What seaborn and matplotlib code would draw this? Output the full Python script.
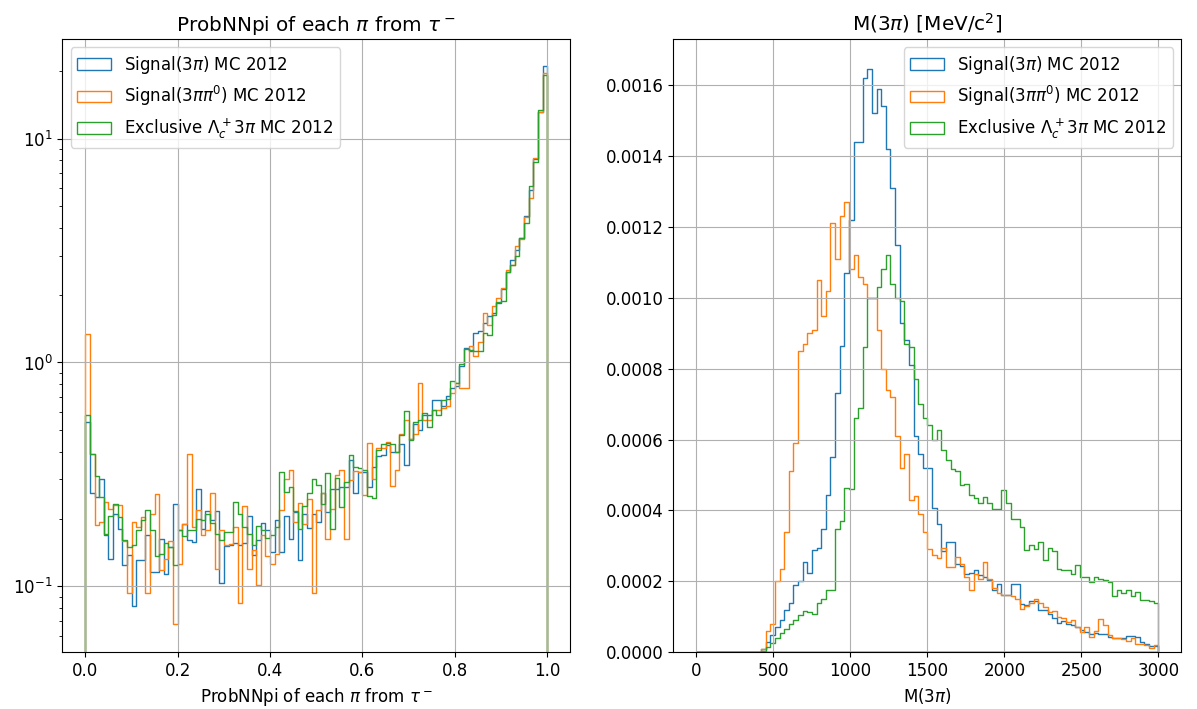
import numpy as np
import matplotlib
matplotlib.use("Agg")
import matplotlib.pyplot as plt
import seaborn as sns

plt.rcParams["font.size"] = 12

labels = [r"Signal(3$\pi$) MC 2012",
          r"Signal(3$\pi\pi^0$) MC 2012",
          r"Exclusive $\Lambda_c^+ 3\pi$ MC 2012"]
colors = ["tab:blue", "tab:orange", "tab:green"]

# ProbNNpi, density per 0.01 bin (0 -> 1)
pnn_3pi = [0.54, 0.26, 0.25, 0.30, 0.17, 0.133, 0.21, 0.18, 0.124, 0.138,
           0.082, 0.131, 0.131, 0.169, 0.116, 0.116, 0.163, 0.114, 0.15, 0.234,
           0.178, 0.19, 0.161, 0.158, 0.273, 0.18,
           0.218, 0.197, 0.218, 0.103, 0.151, 0.153, 0.156, 0.153, 0.156, 0.206,
           0.138, 0.161, 0.192, 0.178, 0.142, 0.197, 0.142, 0.206, 0.163, 0.215,
           0.131, 0.211, 0.183, 0.211,
           0.194, 0.26, 0.215, 0.273, 0.273, 0.278, 0.278, 0.368, 0.26, 0.325,
           0.325, 0.278, 0.342, 0.381, 0.385, 0.427, 0.399, 0.399, 0.431, 0.348,
           0.453, 0.533, 0.498, 0.582, 0.582, 0.683,
           0.68, 0.636, 0.705, 0.768, 0.786, 0.96, 1.16, 1.12, 1.35, 1.38,
           1.5, 1.62, 1.67, 1.84, 2.13, 2.55, 2.88, 3.19, 3.6, 4.53,
           5.91, 8.11, 13.2, 21.2]
pnn_3pipi0 = [1.34, 0.39, 0.187, 0.194, 0.238, 0.222, 0.23, 0.23, 0.16, 0.093,
              0.194, 0.184, 0.204, 0.093, 0.211, 0.258, 0.118, 0.133, 0.16, 0.068,
              0.126, 0.19, 0.392, 0.184, 0.22, 0.169,
              0.179, 0.262, 0.119, 0.178, 0.153, 0.155, 0.184, 0.084, 0.228, 0.119,
              0.145, 0.101, 0.169, 0.136, 0.126, 0.14, 0.22, 0.303, 0.33, 0.194,
              0.236, 0.19, 0.246, 0.093,
              0.219, 0.26, 0.162, 0.222, 0.313, 0.33, 0.162, 0.298, 0.328, 0.325,
              0.255, 0.437, 0.303, 0.413, 0.413, 0.442, 0.28, 0.33, 0.478, 0.552,
              0.457, 0.481, 0.811, 0.552, 0.552, 0.612,
              0.614, 0.625, 0.636, 0.734, 0.808, 0.768, 0.768, 1.19, 1.07, 1.24,
              1.67, 1.47, 1.79, 1.94, 2.15, 2.6, 2.73, 3.3, 3.56, 4.49,
              5.43, 8.2, 13.2, 19.7]
pnn_lc3pi = [0.58, 0.39, 0.31, 0.25, 0.172, 0.206, 0.232, 0.204, 0.161, 0.15,
             0.153, 0.178, 0.197, 0.22, 0.178, 0.136, 0.139, 0.156, 0.15, 0.124,
             0.178, 0.168, 0.178, 0.179, 0.199, 0.197,
             0.211, 0.192, 0.172, 0.161, 0.174, 0.174, 0.238, 0.211, 0.184, 0.172,
             0.153, 0.186, 0.178, 0.165, 0.169, 0.184, 0.324, 0.264, 0.278, 0.217,
             0.181, 0.229, 0.262, 0.303,
             0.283, 0.234, 0.321, 0.181, 0.306, 0.226, 0.293, 0.385, 0.342, 0.336,
             0.33, 0.253, 0.247, 0.408, 0.431, 0.437, 0.431, 0.399, 0.473, 0.608,
             0.45, 0.543, 0.552, 0.596, 0.516, 0.612,
             0.58, 0.68, 0.69, 0.83, 0.81, 0.98, 1.15, 1.14, 1.13, 1.13,
             1.36, 1.33, 1.63, 1.87, 1.89, 2.55, 2.73, 2.98, 3.6, 4.22,
             6.13, 7.9, 13.5, 19.3]

# M(3pi), density per 30 MeV bin (0 -> 3000)
m_3pi = [0, 0, 0, 0, 0, 0, 0, 0, 0, 0, 0, 0, 0, 0,
         0.00001, 0.00003, 0.00005, 0.00007, 0.00009, 0.00012, 0.00014, 0.00019,
         0.0002, 0.000255, 0.000225, 0.000288, 0.000293, 0.000347, 0.000443, 0.00055,
         0.00073, 0.000865, 0.00107, 0.00122, 0.00144, 0.00144, 0.00162, 0.001644,
         0.00152, 0.00159, 0.00154, 0.00142, 0.00131, 0.00115, 0.00093, 0.00088,
         0.00081, 0.00061, 0.00056, 0.00052,
         0.00052, 0.000406, 0.000363, 0.000286, 0.000311, 0.000311, 0.00025, 0.000243,
         0.000222, 0.000224, 0.000231, 0.000219, 0.000213, 0.000203, 0.000175, 0.000194,
         0.000161, 0.000161, 0.000192, 0.000194, 0.000137, 0.000133, 0.000145,
         0.000145, 0.00012, 0.00012, 0.000109, 0.000098, 0.000083, 0.000087, 0.000081,
         0.000076, 0.00007, 0.000064, 0.000058, 0.000051, 0.000053, 0.000051, 0.000051,
         0.000043, 0.000041, 0.000039, 0.000041, 0.000047, 0.000045, 0.000043, 0.000028,
         0.000024, 0.000019, 0.000018]
m_3pipi0 = [0, 0, 0, 0, 0, 0, 0, 0, 0, 0, 0, 0, 0, 0,
            0.00001, 0.00006, 0.00008, 0.0002, 0.000235, 0.00034, 0.00051, 0.00059,
            0.00085, 0.00087, 0.0009, 0.00091, 0.00105, 0.00095, 0.00102, 0.00121,
            0.00111, 0.00123, 0.00127, 0.00108, 0.00112, 0.00106, 0.00104, 0.001,
            0.001, 0.00091, 0.0008, 0.00074, 0.00072, 0.00061, 0.00052, 0.00056,
            0.00043, 0.00044, 0.00039, 0.00034,
            0.00029, 0.000274, 0.000267, 0.000293, 0.00024, 0.00024, 0.00027, 0.000248,
            0.000213, 0.000177, 0.00022, 0.000208, 0.000255, 0.000208, 0.00018, 0.000166,
            0.000161, 0.000161, 0.000158, 0.000151, 0.000123, 0.00013, 0.000139,
            0.00015, 0.00014, 0.000128, 0.000114, 0.000117, 0.0001, 0.000098, 0.000086,
            0.000092, 0.00007, 0.000057, 0.00007, 0.000043, 0.00006, 0.000094, 0.000076,
            0.000048, 0.000041, 0.000039, 0.000038, 0.000032, 0.000039, 0.000024, 0.000023,
            0.00002, 0.000013, 0.00002]
m_lc3pi = [0, 0, 0, 0, 0, 0, 0, 0, 0, 0, 0, 0, 0, 0,
           0.000005, 0.000015, 0.000026, 0.00004, 0.000053, 0.000067, 0.00008, 0.000092,
           0.000104, 0.000117, 0.000113, 0.000109, 0.000138, 0.00015, 0.000175, 0.000175,
           0.000347, 0.00037, 0.000464, 0.00046, 0.00066, 0.00069, 0.00086, 0.001,
           0.001, 0.00103, 0.00108, 0.00112, 0.00104, 0.001, 0.00099, 0.00087,
           0.00086, 0.00077, 0.0007, 0.00066,
           0.00064, 0.000598, 0.000627, 0.00057, 0.000542, 0.000518, 0.000512, 0.000471,
           0.000474, 0.000443, 0.000434, 0.00042, 0.000438, 0.000422, 0.000403, 0.000403,
           0.000459, 0.000422, 0.000375, 0.000377, 0.000354, 0.000288, 0.000302,
           0.00029, 0.00031, 0.00026, 0.000293, 0.000286, 0.000236, 0.000231, 0.000231,
           0.000222, 0.000247, 0.000213, 0.000213, 0.000199, 0.000213, 0.000208, 0.000203,
           0.000199, 0.000158, 0.000175, 0.000166, 0.000177, 0.000158, 0.00017, 0.000147,
           0.000147, 0.000145, 0.000139]

pnn_edges = np.linspace(0, 1, 101)
m_edges = np.linspace(0, 3000, 101)


def draw_steps(ax, edges, series):
    # one outline histogram per sample, heights taken straight from the bins above
    centers = (edges[:-1] + edges[1:]) / 2
    for vals, label, color in zip(series, labels, colors):
        sns.histplot(x=centers, weights=np.asarray(vals), bins=list(edges),
                     stat="count", element="step", fill=True, color=color,
                     facecolor="none", edgecolor=color, linewidth=1,
                     label=label, ax=ax)


fig, (ax1, ax2) = plt.subplots(1, 2, figsize=(11.97, 7.09), dpi=100)
fig.subplots_adjust(left=0.052, right=0.987, top=0.945, bottom=0.080, wspace=0.203)

# 1. ProbNNpi
draw_steps(ax1, pnn_edges, [pnn_3pi, pnn_3pipi0, pnn_lc3pi])
ax1.set_yscale("log")
ax1.set_xlim(-0.05, 1.05)
ax1.set_ylim(0.0507, 27.9)
ax1.set_title(r"ProbNNpi of each $\pi$ from $\tau^-$")
ax1.set_xlabel(r"ProbNNpi of each $\pi$ from $\tau^-$")
ax1.set_ylabel("")
ax1.grid(True)
ax1.legend(loc="upper left")

# 2. M(3pi)
draw_steps(ax2, m_edges, [m_3pi, m_3pipi0, m_lc3pi])
ax2.set_xlim(-150, 3150)
ax2.set_ylim(0, 0.00173)
ax2.set_title(r"M(3$\pi$) [MeV/c$^2$]")
ax2.set_xlabel(r"M(3$\pi$)")
ax2.set_ylabel("")
ax2.grid(True)
ax2.legend(loc="upper right")

fig.savefig("out.png", dpi=100)
